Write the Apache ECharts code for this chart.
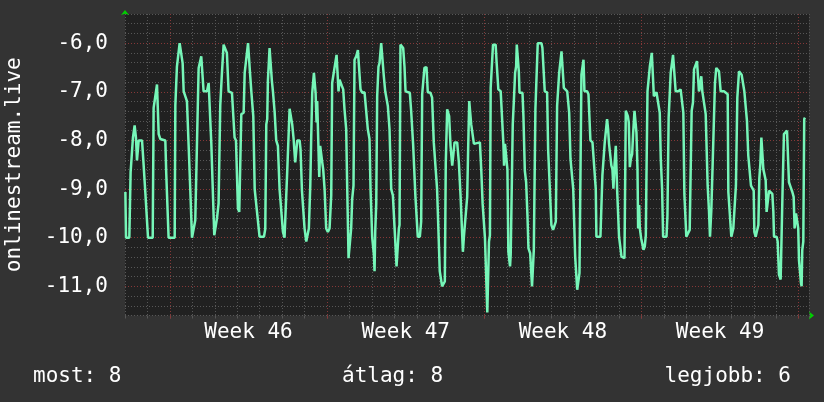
<!DOCTYPE html>
<html>
<head>
<meta charset="utf-8">
<script src="https://cdn.jsdelivr.net/npm/echarts@6/dist/echarts.min.js"></script>
<style>
html,body{margin:0;padding:0;background:#333333;}
#chart{width:824px;height:402px;}
</style>
</head>
<body>
<div id="chart"></div>
<script>
// Hours since the start of the graph window (Saturday 00:00 of week 45)
const hours = [
0.4,1.1,4.6,6.0,7.5,8.5,10.3,11.0,11.7,12.8,13.9,14.6,18.2,19.6,21.0,21.7,23.1,24.6,29.6,30.6,
32.4,34.2,35.2,36.0,37.7,39.5,43.1,44.1,45.9,46.6,53.1,53.8,55.5,57.3,58.4,60.2,61.6,62.7,64.4,66.2,
68.0,69.8,71.6,73.3,75.1,76.9,78.7,80.5,81.5,82.9,84.0,87.6,89.4,91.1,92.2,94.0,95.4,97.2,98.3,100.0,
101.8,103.6,105.4,107.2,108.9,110.7,112.5,114.3,117.1,118.6,120.7,122.1,123.2,124.3,126.8,127.9,130.0,131.5,132.9,133.6,
135.0,135.7,137.1,138.6,140.0,
143.8,148.5,149.9,151.0,152.0,152.7,153.8,154.5,156.3,157.0,158.1,159.9,161.6,163.4,165.2,167.0,168.8,170.5,172.3,173.4,
174.8,175.9,177.7,178.7,180.2,181.9,183.0,184.1,186.6,187.6,189.1,190.8,191.9,193.7,195.5,196.5,198.0,199.0,200.1,201.9,
202.6,203.7,204.7,205.4,206.5,207.6,208.6,209.7,210.8,211.8,213.3,215.0,216.8,218.6,220.4,221.4,223.2,224.7,226.1,227.5,
228.2,229.3,230.7,231.8,233.2,234.6,236.4,237.5,238.9,240.3,241.7,242.8,244.2,245.3,247.1,248.9,250.7,251.7,253.5,256.0,
257.8,259.5,261.3,262.4,264.2,266.0,266.7,267.4,268.5,269.5,270.9,272.0,273.8,275.6,276.6,278.1,279.5,280.9,282.7,284.5,
286.3,
288.4,290.2,291.6,292.7,293.4,294.4,296.2,297.3,298.7,299.8,304.4,305.8,307.9,309.4,310.4,312.2,312.9,315.1,316.5,317.6,
318.7,320.0,322.2,323.6,326.4,328.2,330.0,331.7,333.5,335.3,336.4,337.8,338.9,340.7,341.8,342.8,343.6,344.3,345.4,346.4,
347.9,349.7,350.8,352.2,355.0,356.8,358.6,360.4,361.1,362.2,364.0,365.7,366.8,367.9,368.9,370.0,371.5,372.9,374.7,379.3,
380.7,382.2,383.6,384.7,386.1,387.2,388.3,389.0,390.0,390.8,391.8,393.3,396.1,397.2,399.0,401.5,403.3,404.4,405.1,406.1,
407.6,408.7,409.7,411.5,412.2,413.3,414.4,415.8,416.9,418.0,418.7,420.1,420.9,421.6,424.8,425.8,427.3,428.7,430.1,431.2,
433.0,434.4,435.0,436.0,
436.9,438.6,439.7,441.1,445.1,446.1,447.5,448.6,451.1,452.2,454.0,455.7,457.5,459.3,460.4,461.8,462.9,464.0,465.4,466.5,
467.5,469.0,470.8,472.6,474.0,474.7,476.1,477.6,479.0,480.4,481.1,482.6,483.3,484.7,485.7,486.4,487.8,488.9,490.0,491.0,
493.9,495.3,497.4,499.6,501.4,503.1,503.8,508.1,509.5,510.2,511.6,512.7,513.8,515.2,516.3,517.3,518.8,519.8,520.9,522.0,
523.1,524.5,525.9,527.0,528.0,529.5,530.6,532.3,533.8,535.2,536.3,537.4,538.4,539.5,540.6,542.0,543.1,544.5,545.9,546.6,
547.7,548.4,549.5,550.2,551.6,553.1,554.1,555.5,556.6,557.3,558.4,559.8,560.9,562.0,563.0,564.5,565.2,566.3,568.0,570.1,
571.5,572.6,574.0,575.1,578.7,579.7,
581.0,583.2,585.0,585.7,587.5,588.5,591.3,593.8,595.6,596.7,597.8,599.2,599.9,602.0,603.5,604.9,605.6,607.0,608.1,609.8,
611.3,612.4,613.4,614.5,615.9,617.0,618.8,620.6,621.6,622.7,624.1,625.2,626.6,627.7,629.1,630.5,631.9,633.7,634.8,636.6,
640.1,641.9,644.1,644.8,646.5,648.0,649.0,650.1,651.5,652.9,654.4,656.2,657.6,659.0,660.8,661.9,663.3,664.7,666.1,667.6,
669.0,670.4,671.9,672.6,674.0,675.8,676.9,677.9,679.0,680.1,681.1,682.2,683.6,684.7,685.7,687.2,688.3,690.4,691.8,692.9,
693.6,696.4,697.5,698.9,700.7,701.8,702.8,704.2,706.0,707.5,708.9,709.6,711.4,713.2,714.6,715.6,717.1,718.5,719.5,720.3,
721.3,722.4,723.1,723.8,724.9,725.9,726.7
];
// Value (negative rank) at each time
const rank = [
-9.06,-10,-10,-8.65,-8.65,-7.94,-7.69,-7.69,-7.94,-8.41,-8.45,-8.0,-8.0,-8.41,-8.45,-9.06,-9.06,-10,-10,-7.33,
-7.29,-6.85,-6.85,-7.87,-7.97,-8.0,-8.0,-8.69,-8.70,-10,-10,-7.28,-6.48,-6.44,-6.0,-6.0,-6.41,-6.99,-7.0,-7.19,
-8.1,-9.03,-10,-10,-9.64,-9.64,-6.51,-6.51,-6.27,-6.27,-6.99,-6.99,-6.82,-6.82,-8.04,-8.07,-9.95,-9.93,-9.60,-9.30,
-7.28,-6.61,-6.03,-6.03,-6.20,-6.99,-6.95,-7.02,-7.94,-8.0,-9.40,-9.47,-9.47,-7.46,-7.43,-6.61,-6.61,-6.0,-6.0,-6.61,
-6.99,-7.02,-7.50,-9.0,-9.03,
-9.98,-9.98,-9.82,-7.67,-7.56,-6.78,-6.78,-6.10,-6.10,-6.78,-6.99,-7.41,-8.0,-8.11,-9.0,-9.03,-9.88,-10.0,-10.0,-8.62,
-8.59,-7.35,-7.36,-7.67,-7.97,-8.45,-8.48,-8.0,-8.0,-8.18,-9.03,-9.05,-9.81,-10.08,-10.08,-9.81,-8.93,-7.94,-7.02,-6.61,
-6.61,-7.02,-7.63,-7.19,-7.19,-8.75,-8.11,-8.11,-8.45,-8.59,-9.0,-9.81,-9.88,-9.81,-9.13,-6.82,-6.78,-6.41,-6.24,-6.24,
-6.99,-6.75,-6.75,-6.88,-6.95,-7.36,-7.77,-8.99,-10.42,-10.42,-9.81,-9.20,-8.93,-6.34,-6.27,-6.14,-6.14,-6.95,-7.02,-7.01,
-7.02,-7.77,-7.97,-9.0,-10.0,-10.35,-10.69,-9.88,-9.30,-7.09,-6.48,-6.41,-6.0,-6.0,-6.68,-6.99,-7.02,-7.29,-7.77,-9.0,
-9.13,
-9.91,-10.59,-10.59,-9.81,-9.74,-6.03,-6.03,-6.10,-6.48,-6.99,-7.02,-7.39,-8.07,-8.11,-9.16,-9.20,-9.98,-9.98,-9.67,-7.05,
-7.02,-6.51,-6.49,-7.01,-7.02,-7.12,-8.04,-8.07,-8.99,-9.03,-10.69,-10.73,-11.0,-11.0,-10.9,-8.48,-8.48,-7.36,-7.36,-7.5,
-8.11,-8.52,-8.52,-8.04,-8.04,-8.45,-9.13,-9.16,-10.29,-9.98,-9.98,-9.16,-8.11,-7.19,-7.19,-7.67,-7.70,-8.07,-8.04,-8.04,
-8.59,-9.30,-9.33,-10.01,-10.05,-11.54,-11.54,-10.08,-9.95,-6.92,-6.88,-6.03,-6.03,-6.41,-6.95,-6.99,-7.02,-8.07,-8.52,-8.07,
-8.07,-8.59,-10.29,-10.59,-10.35,-10.32,-7.67,-7.09,-6.61,-6.48,-6.03,-6.03,-6.58,-7.02,-7.02,-7.5,-8.62,-8.86,-9.54,-10.22,
-10.32,-10.35,-11.0,-11.0,
-10.25,-7.36,-7.33,-6.0,-6.0,-6.1,-6.14,-6.99,-7.01,-8.18,-8.21,-9.74,-9.84,-9.84,-9.67,-7.29,-7.29,-6.61,-6.61,-6.17,
-6.17,-6.92,-6.95,-6.99,-6.99,-7.43,-8.38,-8.41,-8.99,-9.03,-10.39,-10.42,-11.07,-11.07,-10.73,-10.69,-6.65,-6.61,-6.34,-6.99,
-6.99,-7.05,-8.0,-8.04,-8.04,-8.99,-9.98,-9.98,-9.95,-8.72,-8.72,-8.04,-8.04,-7.56,-7.77,-8.07,-8.11,-8.52,-8.59,-8.99,
-8.52,-8.11,-8.99,-9.03,-9.98,-10.01,-10.39,-10.42,-10.42,-7.39,-7.39,-7.5,-7.63,-8.55,-8.38,-8.28,-7.84,-7.39,-7.39,-7.84,
-8.59,-9.81,-9.33,-9.81,-10.01,-10.15,-10.25,-10.18,-9.95,-8.72,-6.99,-6.95,-6.48,-6.44,-6.2,-6.2,-7.09,-7.05,-7.01,-7.01,
-7.43,-8.38,-8.99,-9.98,-9.98,-9.55,
-7.53,-6.61,-6.58,-6.24,-6.24,-6.99,-6.99,-6.95,-6.99,-7.43,-9.10,-9.13,-9.98,-9.98,-9.84,-9.81,-7.39,-7.22,-6.54,-6.53,
-6.37,-6.41,-6.99,-6.92,-6.68,-6.99,-7.02,-7.46,-7.50,-8.93,-9.44,-9.98,-9.44,-9.44,-7.77,-6.82,-6.51,-6.54,-6.58,-6.99,
-6.99,-7.02,-7.05,-9.06,-9.06,-9.98,-9.98,-9.81,-9.77,-8.93,-7.12,-6.58,-6.58,-6.65,-6.68,-6.99,-7.02,-7.60,-8.31,-8.35,
-8.93,-8.96,-9.03,-9.88,-9.98,-9.98,-9.74,-8.79,-8.48,-7.94,-7.90,-8.59,-8.59,-8.82,-9.47,-9.44,-9.03,-9.0,-9.10,-9.47,
-9.98,-9.98,-10.08,-10.76,-10.86,-10.86,-8.99,-7.87,-7.87,-7.80,-7.84,-8.86,-8.96,-9.06,-9.16,-9.81,-9.5,-9.47,-9.81,-10.46,
-10.49,-10.93,-11.0,-10.25,-10.08,-7.56,-7.53
];
const weekStarts = [48, 216, 384, 552, 720];
const weekLabels = ['Week 46', 'Week 47', 'Week 48', 'Week 49'];
const majorValues = [-6, -7, -8, -9, -10, -11];
const legendTexts = ['most: 8', 'átlag: 8', 'legjobb: 6'];
const seriesName = 'onlinestream.live';

const FONT = 'DejaVu Sans Mono';
const GRID_GREY = '#575757';
const GRID_RED = '#853838';
const X_MAX = 731;
const Y_MIN = -11.6, Y_MAX = -5.4;

const labelPositions = weekLabels.map((_, i) => (weekStarts[i] + weekStarts[i + 1]) / 2);
const dotted = color => ({color: color, type: [1, 2], width: 1});

const chart = echarts.init(document.getElementById('chart'), null, {renderer: 'canvas'});
chart.setOption({
  animation: false,
  backgroundColor: '#333333',
  textStyle: {fontFamily: FONT},
  title: [
    {text: legendTexts[0], left: 33, top: 366},
    {text: legendTexts[1], left: 342, top: 366},
    {text: legendTexts[2], right: 33, top: 366}
  ].map(t => Object.assign(t, {padding: 0, textStyle: {color: '#ffffff', fontSize: 21, fontWeight: 'normal', fontFamily: FONT}})),
  grid: {left: 125, right: 15, top: 14, bottom: 86.5, show: true, backgroundColor: '#212121', borderWidth: 0,
         containLabel: false, outerBoundsMode: 'none'},
  xAxis: [
    { // day grid
      type: 'value', position: 'bottom', min: 0, max: X_MAX, interval: 24,
      axisLine: {show: false},
      axisTick: {show: true, length: 3, lineStyle: {color: GRID_GREY}},
      axisLabel: {show: false},
      splitLine: {show: true, lineStyle: dotted(GRID_GREY)}
    },
    { // week grid + week labels
      type: 'value', position: 'bottom', min: 0, max: X_MAX,
      axisLine: {show: false},
      axisTick: {show: true, length: 3, customValues: weekStarts, lineStyle: {color: GRID_RED}},
      splitLine: {show: true, lineStyle: dotted(GRID_RED)},
      axisLabel: {
        show: true, customValues: labelPositions, margin: 7,
        color: '#ffffff', fontSize: 21, fontFamily: FONT,
        formatter: v => { const i = labelPositions.findIndex(p => Math.abs(p - v) < 1e-6); return i >= 0 ? weekLabels[i] : ''; }
      }
    },
    { // arrow
      type: 'value', position: 'bottom', min: 0, max: 1,
      axisLine: {show: true, symbol: ['none', 'arrow'], symbolSize: [6, 5], symbolOffset: [0, 5], lineStyle: {color: '#00d000', width: 0}},
      axisTick: {show: false}, axisLabel: {show: false}, splitLine: {show: false}
    }
  ],
  yAxis: [
    {
      type: 'value', position: 'left', min: Y_MIN, max: Y_MAX, interval: 0.2,
      name: seriesName, nameLocation: 'middle', nameGap: 100,
      nameTextStyle: {color: '#ffffff', fontSize: 21, fontFamily: FONT},
      axisLine: {show: false}, axisTick: {show: false},
      axisLabel: {
        color: '#ffffff', fontSize: 21, fontFamily: FONT, margin: 17,
        formatter: v => Math.abs(v - Math.round(v)) < 1e-6 ? Math.round(v).toFixed(1).replace('.', ',') : ''
      },
      splitLine: {show: true, lineStyle: dotted(GRID_GREY)}
    },
    { // major (integer) grid
      type: 'value', position: 'left', min: Y_MIN, max: Y_MAX,
      axisLine: {show: false},
      axisTick: {show: false, customValues: majorValues},
      axisLabel: {show: false},
      splitLine: {show: true, lineStyle: dotted(GRID_RED)}
    },
    { // arrow
      type: 'value', position: 'left', min: 0, max: 1,
      axisLine: {show: true, symbol: ['none', 'arrow'], symbolSize: [6, 5], symbolOffset: [0, 4], lineStyle: {color: '#00d000', width: 0}},
      axisTick: {show: false}, axisLabel: {show: false}, splitLine: {show: false}
    }
  ],
  series: [{
    name: seriesName,
    type: 'line',
    xAxisIndex: 0, yAxisIndex: 0,
    data: hours.map((h, i) => [h, rank[i]]),
    showSymbol: false,
    symbol: 'none',
    z: 5,
    lineStyle: {color: '#76f6b8', width: 2.5}
  }]
});
</script>
</body>
</html>
